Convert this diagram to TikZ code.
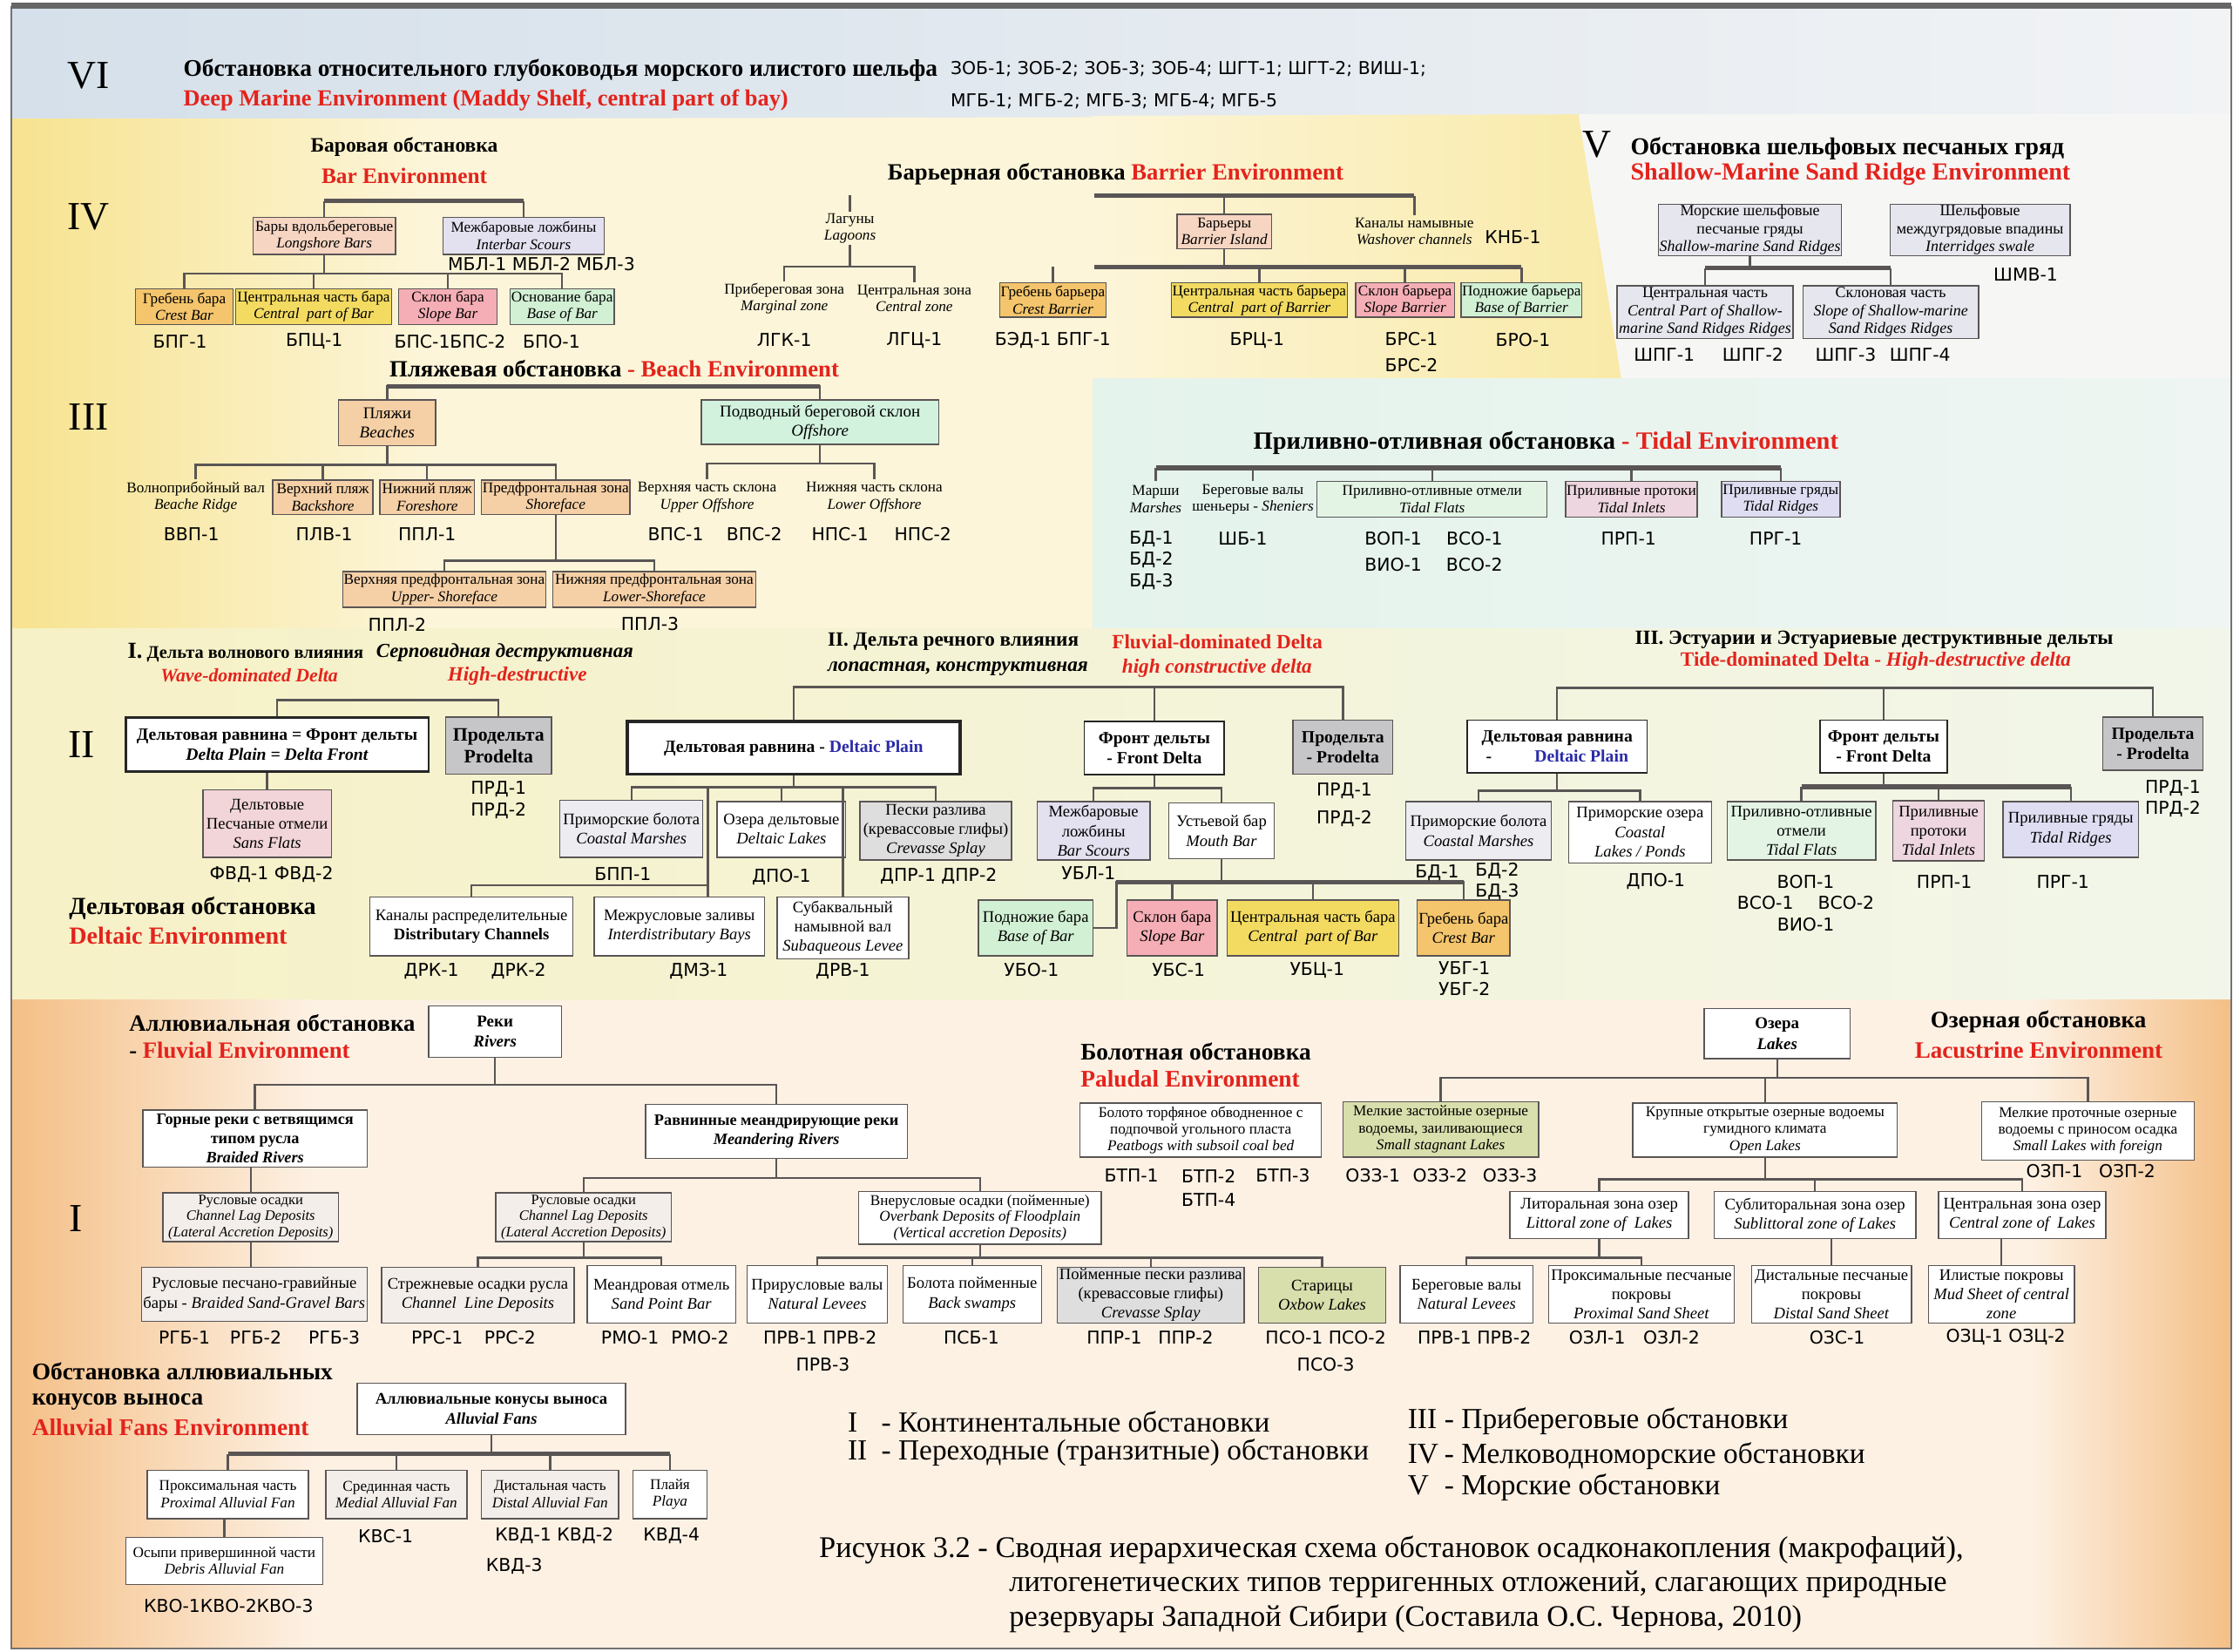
\documentclass[tikz,border=0pt]{standalone}
\usepackage{fontspec}
\setmainfont{Liberation Serif}
\newfontfamily\codefont{DejaVu Sans}
\usepackage{xcolor}
\usepackage{tikz}
\usetikzlibrary{positioning, calc}
\definecolor{envred}{HTML}{E3231C}
\definecolor{deltablue}{HTML}{2B2BA8}
\definecolor{linegray}{HTML}{5A5555}
\definecolor{nodepeach}{HTML}{F6D5C2}
\definecolor{nodetan}{HTML}{F5D0A6}
\definecolor{nodecrest}{HTML}{F4C56C}
\definecolor{nodecentral}{HTML}{F3DB62}
\definecolor{nodeslope}{HTML}{F5AEB5}
\definecolor{nodebase}{HTML}{D2F0D4}
\definecolor{nodelav}{HTML}{E3E0EF}
\definecolor{nodeshelf}{HTML}{E6E6EE}
\definecolor{nodeoff}{HTML}{D2F2DE}
\definecolor{nodeflat}{HTML}{E3F4E5}
\definecolor{nodeinlet}{HTML}{EDD6DF}
\definecolor{noderidge}{HTML}{DEDDF2}
\definecolor{nodegray}{HTML}{C6C6C8}
\definecolor{nodemarsh}{HTML}{ECECF1}
\definecolor{nodesplay}{HTML}{DEDEDE}
\definecolor{nodesand}{HTML}{F2D5D8}
\definecolor{nodeolive}{HTML}{D8DFAC}
\definecolor{nodewarm}{HTML}{F3EEEA}
\definecolor{bandsix}{HTML}{D5E0EA}
\definecolor{bandsixr}{HTML}{F1F3F5}
\definecolor{bandyel}{HTML}{F7E38F}
\definecolor{bandyelp}{HTML}{FCF5D9}
\definecolor{bandyels}{HTML}{F9EAA8}
\definecolor{bandv}{HTML}{F6F6F5}
\definecolor{bandtidl}{HTML}{E4F3EC}
\definecolor{bandtidr}{HTML}{EEF5F2}
\definecolor{bandtwol}{HTML}{F6F1C6}
\definecolor{bandtwor}{HTML}{F2F6EA}
\definecolor{bandone}{HTML}{FDF1E4}
\definecolor{bandonee}{HTML}{F4BF86}
\newcommand{\boxfont}{\fontsize{4.9}{5.5}\selectfont}
\newcommand{\headfont}[1]{\bfseries\fontsize{#1}{#1}\selectfont}

\begin{document}
\begin{tikzpicture}[x=0.164mm, y=-0.164mm,
    box/.style={draw=linegray, line width=0.4pt, fill=#1, align=center, inner sep=0.3pt, font=\boxfont},
    strong/.style={box=#1, draw=black!85, line width=0.8pt, font=\bfseries\fontsize{5.6}{6.6}\selectfont},
    bare/.style={align=center, inner sep=0.3pt, font=\boxfont},
    code/.style={font=\codefont\fontsize{5.8}{7}\selectfont, inner sep=0pt, align=center},
    ttl/.style={font={\headfont{#1}}, inner sep=0pt, anchor=west},
    envt/.style={ttl=#1, text=envred},
    numeral/.style={font=\fontsize{13}{13}\selectfont, inner sep=0pt},
    legtxt/.style={font=\fontsize{9.5}{10}\selectfont, inner sep=0pt, anchor=west},
    link/.style={draw=linegray, line width=0.7pt},
    bar/.style={draw=linegray, line width=1.6pt},
    elbow/.style={to path={-- ++(0,#1) -| (\tikztotarget)}},
    sz/.style 2 args={minimum width=#1*0.164mm, minimum height=#2*0.164mm},
]
    \useasboundingbox (0,0) rectangle (1568,1156);
    \fill[white] (0,0) rectangle (1568,1156);
    \shade[left color=bandsix, right color=bandsixr] (8,5) rectangle (1562,83);
    \shade[left color=bandyel, right color=bandyelp] (8,83) rectangle (300,440);
    \fill[bandyelp] (299,83) -- (766,82) -- (766,440) -- (299,440) -- cycle;
    \shade[left color=bandyelp, right color=bandyels] (765,81) -- (1105,80) -- (1135,265) -- (765,265) -- cycle;
    \fill[bandv] (1105,80) -- (1562,80) -- (1562,265) -- (1135,265) -- cycle;
    \shade[left color=bandtidl, right color=bandtidr] (765,265) rectangle (1562,440);
    \shade[left color=bandtwol, right color=bandtwor] (8,440) rectangle (1562,700);
    \fill[bandone] (8,700) rectangle (1562,1154);
    \shade[left color=bandonee, right color=bandone] (8,700) rectangle (220,1154);
    \shade[left color=bandone, right color=bandonee] (1420,700) rectangle (1562,1154);
    \draw[black!55, line width=0.6pt] (8,5) rectangle (1562,1154);
    \draw[black!60, line width=2pt] (8,4) -- (1562,4);

    \node[numeral] (numVI) at (62,53) {VI};
    \node[ttl=7.8] (titVI) at (128,49) {Обстановка относительного глубоководья морского илистого шельфа};
    \node[envt=7.5] (envVI) at (128,70) {Deep Marine Environment (Maddy Shelf, central part of bay)};
    \node[code, anchor=west] (kVIa) at (665,48) {ЗОБ-1; ЗОБ-2; ЗОБ-3; ЗОБ-4; ШГТ-1; ШГТ-2; ВИШ-1;};
    \node[code, anchor=west] (kVIb) at (665,71) {МГБ-1; МГБ-2; МГБ-3; МГБ-4; МГБ-5};

    \node[numeral] (numIV) at (62,152) {IV};
    \node[ttl=6.7, anchor=center] (titBar) at (283,103) {Баровая обстановка};
    \node[envt=7.2, anchor=center] (envBar) at (283,123) {Bar Environment};
    \node[box=nodepeach, sz={100}{26}] (longbar) at (227,165) {Бары вдольбереговые\\\textit{Longshore Bars}};
    \node[box=nodelav, sz={113}{26}] (interbar) at (366.5,165) {Межбаровые ложбины\\\textit{Interbar Scours}};
    \node[code] (kMBL) at (379,185) {МБЛ-1 МБЛ-2 МБЛ-3};
    \node[box=nodecrest, sz={68}{25}] (crestbar) at (129,214.5) {Гребень бара\\\textit{Crest Bar}};
    \node[box=nodecentral, sz={109}{25}] (centbar) at (219.5,214.5) {Центральная часть бара\\\textit{Central\ \ part of Bar}};
    \node[box=nodeslope, sz={69}{25}] (slopebar) at (313.5,214.5) {Склон бара\\\textit{Slope Bar}};
    \node[box=nodebase, sz={73}{25}] (basebar) at (393.5,214.5) {Основание бара\\\textit{Base of Bar}};
    \node[code] (kBPG) at (126,239) {БПГ-1};
    \node[code] (kBPC) at (220,239) {БПЦ-1};
    \node[code] (kBPS) at (315,239) {БПС-1БПС-2};
    \node[code] (kBPO) at (386,239) {БПО-1};
    \draw[link] (longbar.north) -- ++(0,-11);
    \draw[link] (interbar.north) -- ++(0,-11);
    \draw[bar] ($(longbar.north)+(0,-11)$) -- ($(interbar.north)+(0,-11)$);
    \draw[link] (longbar.south) to[elbow=13] (crestbar.north) (longbar.south) to[elbow=13] (centbar.north)
        (longbar.south) to[elbow=13] (slopebar.north) (longbar.south) to[elbow=13] (basebar.north);

    \node[ttl=7.6] (titBarrier) at (621,122) {Барьерная обстановка \textcolor{envred}{Barrier Environment}};
    \node[bare, sz={60}{22}] (lagoon) at (595,160) {Лагуны\\\textit{Lagoons}};
    \node[bare, sz={80}{22}] (marginal) at (549,209) {Прибереговая зона\\\textit{Marginal zone}};
    \node[bare, sz={80}{22}] (centzone) at (640,209) {Центральная зона\\\textit{Central zone}};
    \node[code] (kLGK) at (549,238) {ЛГК-1};
    \node[code] (kLGC) at (640,238) {ЛГЦ-1};
    \draw[link] (lagoon.north) -- ++(0,-12);
    \draw[link] (lagoon.south) to[elbow=15] (marginal.north) (lagoon.south) to[elbow=15] (centzone.north);
    \node[box=nodepeach, sz={66}{24}] (barisl) at (857,162) {Барьеры\\\textit{Barrier Island}};
    \node[bare, sz={90}{22}] (washover) at (990,162) {Каналы намывные\\\textit{Washover channels}};
    \node[code] (kKNB) at (1059,166) {КНБ-1};
    \node[box=nodecrest, sz={74}{24}] (crestbarr) at (737,210) {Гребень барьера\\\textit{Crest Barrier}};
    \node[box=nodecentral, sz={123}{24}] (centbarr) at (881.5,210) {Центральная часть барьера\\\textit{Central\ \ part of Barrier}};
    \node[box=nodeslope, sz={69}{24}] (slopebarr) at (983.5,210) {Склон барьера\\\textit{Slope Barrier}};
    \node[box=nodebase, sz={84}{24}] (basebarr) at (1065,210) {Подножие барьера\\\textit{Base of Barrier}};
    \node[code] (kBED) at (737,238) {БЭД-1 БПГ-1};
    \node[code] (kBRC) at (880,238) {БРЦ-1};
    \node[code] (kBRS) at (988,246.5) {БРС-1\\[1.5pt]БРС-2};
    \node[code] (kBRO) at (1066,238) {БРО-1};
    \coordinate (barrTop) at (766,137);
    \coordinate (barrMid) at (766,187);
    \draw[bar] (barrTop) -- (barrTop -| washover.north);
    \draw[link] (barisl.north) -- (barisl.north |- barrTop);
    \draw[link] (washover.north) -- (washover.north |- barrTop);
    \draw[link] (barisl.south) -- (barisl.south |- barrMid);
    \draw[bar] (barrMid) -- (barrMid -| basebarr.north);
    \draw[link] (centbarr.north) -- (centbarr.north |- barrMid);
    \draw[link] (slopebarr.north) -- (slopebarr.north |- barrMid);
    \draw[link] (basebarr.north) -- (basebarr.north |- barrMid);
    \draw[link] (crestbarr.north) -- ++(0,-11);

    \node[numeral] (numV) at (1118,101) {V};
    \node[ttl=7.9] (titV) at (1141,104) {Обстановка шельфовых песчаных гряд};
    \node[envt=8] (envV) at (1141,122) {Shallow-Marine Sand Ridge Environment};
    \node[box=nodeshelf, sz={124}{36}, font=\fontsize{5.1}{5.8}\selectfont] (shelfridge) at (1225,161) {Морские шельфовые\\песчаные гряды\\\textit{Shallow-marine Sand Ridges}};
    \node[box=nodeshelf, sz={126}{36}, font=\fontsize{5.1}{5.8}\selectfont] (interridge) at (1386,161) {Шельфовые\\междугрядовые впадины\\\textit{Interridges swale}};
    \node[code] (kSHMV) at (1418,192) {ШМВ-1};
    \node[box=nodeshelf, sz={123}{37}, font=\fontsize{5.1}{5.8}\selectfont] (centridge) at (1193.5,218.5) {Центральная часть\\\textit{Central Part of Shallow-}\\\textit{marine Sand Ridges Ridges}};
    \node[box=nodeshelf, sz={123}{37}, font=\fontsize{5.1}{5.8}\selectfont] (sloperidge) at (1323.5,218.5) {Склоновая часть\\\textit{Slope of Shallow-marine}\\\textit{Sand Ridges Ridges}};
    \node[code] (kSPGa) at (1165,248) {ШПГ-1};
    \node[code] (kSPGb) at (1227,248) {ШПГ-2};
    \node[code] (kSPGc) at (1292,248) {ШПГ-3};
    \node[code] (kSPGd) at (1344,248) {ШПГ-4};
    \draw[link] (shelfridge.south) to[elbow=9] (centridge.north) (shelfridge.south) to[elbow=9] (sloperidge.north);
    \draw[bar] ($(centridge.north)+(0,-12)$) -- ($(sloperidge.north)+(0,-12)$);

    \node[numeral] (numIII) at (62,292) {III};
    \node[ttl=7.6, anchor=center] (titBeach) at (430,258) {Пляжевая обстановка \textcolor{envred}{- Beach Environment}};
    \node[box=nodetan, sz={68}{32}, font=\fontsize{5.4}{6.4}\selectfont] (beaches) at (271,296) {Пляжи\\\textit{Beaches}};
    \node[box=nodeoff, sz={166}{31}, font=\fontsize{5.4}{6.4}\selectfont] (offshore) at (574,295.5) {Подводный береговой склон\\\textit{Offshore}};
    \node[bare, sz={90}{24}] (bridge) at (137,348) {Волноприбойный вал\\\textit{Beache Ridge}};
    \node[box=nodetan, sz={70}{24}] (backshore) at (226,348) {Верхний пляж\\\textit{Backshore}};
    \node[box=nodetan, sz={66}{24}] (foreshore) at (299,348) {Нижний пляж\\\textit{Foreshore}};
    \node[box=nodetan, sz={104}{24}] (shoreface) at (389,348) {Предфронтальная зона\\\textit{Shoreface}};
    \node[bare, sz={90}{24}] (upoff) at (495,348) {Верхняя часть склона\\\textit{Upper Offshore}};
    \node[bare, sz={90}{24}] (lowoff) at (612,348) {Нижняя часть склона\\\textit{Lower Offshore}};
    \node[box=nodetan, sz={142}{25}] (uppershore) at (311,412.5) {Верхняя предфронтальная зона\\\textit{Upper- Shoreface}};
    \node[box=nodetan, sz={142}{25}] (lowershore) at (458,412.5) {Нижняя предфронтальная зона\\\textit{Lower-Shoreface}};
    \node[code] (kVVP) at (134,374) {ВВП-1};
    \node[code] (kPLV) at (227,374) {ПЛВ-1};
    \node[code] (kPPLa) at (299,374) {ППЛ-1};
    \node[code] (kVPSa) at (473,374) {ВПС-1};
    \node[code] (kVPSb) at (528,374) {ВПС-2};
    \node[code] (kNPSa) at (588,374) {НПС-1};
    \node[code] (kNPSb) at (646,374) {НПС-2};
    \node[code] (kPPLb) at (278,437) {ППЛ-2};
    \node[code] (kPPLc) at (455,437) {ППЛ-3};
    \draw[link] (beaches.north) -- ++(0,-9) -| (offshore.north);
    \draw[bar] ($(beaches.north)+(0,-9)$) -- ($(offshore.north)+(0,-9)$);
    \draw[link] (beaches.south) to[elbow=13] (bridge.north) (beaches.south) to[elbow=13] (backshore.north)
        (beaches.south) to[elbow=13] (foreshore.north) (beaches.south) to[elbow=13] (shoreface.north);
    \draw[link] (offshore.south) to[elbow=13] (upoff.north) (offshore.south) to[elbow=13] (lowoff.north);
    \draw[link] (shoreface.south) to[elbow=32] (uppershore.north) (shoreface.south) to[elbow=32] (lowershore.north);

    \node[ttl=8.1] (titTidal) at (877,310) {Приливно-отливная обстановка \textcolor{envred}{- Tidal Environment}};
    \node[bare, sz={30}{25}] (marsh) at (809,349.5) {Марши\\\textit{Marshes}};
    \node[bare, sz={80}{25}] (chenier) at (877,349.5) {Береговые валы\\шеньеры - \textit{Sheniers}};
    \node[box=nodeflat, sz={161}{25}] (tflat) at (1002.5,349.5) {Приливно-отливные отмели\\\textit{Tidal Flats}};
    \node[box=nodeinlet, sz={92}{25}] (inlet) at (1142,349.5) {Приливные протоки\\\textit{Tidal Inlets}};
    \node[box=noderidge, sz={83}{25}] (tridge) at (1246.5,349.5) {Приливные гряды\\\textit{Tidal Ridges}};
    \node[code] (kBDt) at (806,392) {БД-1\\БД-2\\БД-3};
    \node[code] (kSHB) at (870,377) {ШБ-1};
    \node[code] (kVOP) at (1003.5,386) {ВОП-1\hspace{8pt}ВСО-1\\[1.5pt]ВИО-1\hspace{8pt}ВСО-2};
    \node[code] (kPRP) at (1140,377) {ПРП-1};
    \node[code] (kPRG) at (1243,377) {ПРГ-1};
    \draw[link] (marsh.north) -- ++(0,-9) (chenier.north) -- ++(0,-9) (tflat.north) -- ++(0,-9)
        (inlet.north) -- ++(0,-9) (tridge.north) -- ++(0,-9);
    \draw[bar] ($(marsh.north)+(0,-9)$) -- ($(tridge.north)+(0,-9)$);

    \node[numeral] (numII) at (57,521) {II};
    \node[ttl=5.8] (titWave) at (89,457) {{\fontsize{7.5}{7.5}\selectfont I.} Дельта волнового влияния};
    \node[ttl=6.5] (titWaveb) at (263,457) {\itshape Серповидная деструктивная};
    \node[envt=6.2] (envWave) at (112,473) {\itshape Wave-dominated Delta};
    \node[envt=6.6] (envWaveb) at (313,473) {\itshape High-destructive};
    \node[strong=white, sz={212}{38}] (dplainW) at (194,521) {Дельтовая равнина = Фронт дельты\\\textit{Delta Plain = Delta Front}};
    \node[strong=nodegray, sz={74}{40}, draw=linegray, line width=0.4pt, font=\bfseries\fontsize{6.2}{7.2}\selectfont] (prodW) at (349,522) {Продельта\\Prodelta};
    \node[code] (kPRDw) at (349,560) {ПРД-1\\ПРД-2};
    \node[box=nodesand, sz={90}{47}, font=\fontsize{5.3}{6.3}\selectfont] (sandflat) at (187,576.5) {Дельтовые\\Песчаные отмели\\\textit{Sans Flats}};
    \node[code] (kFVD) at (190,612) {ФВД-1 ФВД-2};
    \node[ttl=8] (titDeltaic) at (48,636) {Дельтовая обстановка};
    \node[envt=8] (envDeltaic) at (48,655) {Deltaic Environment};
    \draw[link] (dplainW.north) -- ++(0,-11) -| (prodW.north);
    \draw[link] (sandflat.north) -- (sandflat.north |- dplainW.south);

    \node[ttl=6.6] (titFluv) at (579,449) {II. Дельта речного влияния};
    \node[ttl=6.6] (titFluvb) at (579,468) {\itshape лопастная, конструктивная};
    \node[envt=6.6] (envFluv) at (778,449) {Fluvial-dominated Delta};
    \node[envt=6.6] (envFluvb) at (785,468) {\itshape high constructive delta};
    \node[strong=white, sz={233}{37}, line width=1pt] (dplainF) at (555.5,523.5) {Дельтовая равнина - \textcolor{deltablue}{Deltaic Plain}};
    \node[strong=white, sz={98}{37}, line width=0.5pt] (frontF) at (808,523.5) {Фронт дельты\\- Front Delta};
    \node[strong=nodegray, sz={70}{38}, draw=linegray, line width=0.4pt] (prodF) at (940,523) {Продельта\\- Prodelta};
    \node[code] (kPRDf) at (941,563.5) {ПРД-1\\[2pt]ПРД-2};
    \node[box=nodemarsh, sz={100}{40}, font=\fontsize{5.3}{6.3}\selectfont] (cmarshF) at (442,580) {Приморские болота\\\textit{Coastal Marshes}};
    \node[box=white, sz={90}{39}, font=\fontsize{5.3}{6.3}\selectfont] (dlakes) at (547,580.5) {Озера дельтовые\\\textit{Deltaic Lakes}};
    \node[box=nodesplay, sz={106}{41}, font=\fontsize{5.3}{6.3}\selectfont] (crevF) at (655,581.5) {Пески разлива\\(кревассовые глифы)\\\textit{Crevasse Splay}};
    \node[code] (kBPP) at (436,612) {БПП-1};
    \node[code] (kDPO) at (547,614) {ДПО-1};
    \node[code] (kDPR) at (657,613) {ДПР-1 ДПР-2};
    \node[box=white, sz={142}{41}, font=\fontsize{5.3}{6.3}\selectfont] (distch) at (330,648.5) {Каналы распределительные\\\textbf{Distributary Channels}};
    \node[box=white, sz={119}{41}, font=\fontsize{5.3}{6.3}\selectfont] (ibays) at (475.5,648.5) {Межрусловые заливы\\\textit{Interdistributary Bays}};
    \node[box=white, sz={92}{43}, font=\fontsize{5.3}{6.3}\selectfont] (subaq) at (590,649.5) {Субаквальный\\намывной вал\\\textit{Subaqueous Levee}};
    \node[code] (kDRKa) at (302,680) {ДРК-1};
    \node[code] (kDRKb) at (363,680) {ДРК-2};
    \node[code] (kDMZ) at (489,680) {ДМЗ-1};
    \node[code] (kDRV) at (590,680) {ДРВ-1};
    \draw[link] (dplainF.north) -- ++(0,-23) -| (prodF.north);
    \draw[link] (frontF.north) -- ++(0,-23);
    \draw[link] (dplainF.south) to[elbow=8] (cmarshF.north) (dplainF.south) to[elbow=8] (dlakes.north)
        (dplainF.south) to[elbow=8] (crevF.north) (dplainF.south) to[elbow=8] (subaq.north);
    \draw[link] (dplainF.south) -- ++(0,8) -| ($(ibays.north)+(20,0)$);
    \draw[link] ($(ibays.north)+(20,-8)$) -| (distch.north);
    \node[box=nodelav, sz={79}{41}, font=\fontsize{5.3}{6.3}\selectfont] (barscour) at (765.5,581.5) {Межбаровые\\ложбины\\\textit{Bar Scours}};
    \node[box=white, sz={74}{39}, font=\fontsize{5.3}{6.3}\selectfont] (mouthbar) at (855,581.5) {Устьевой бар\\\textit{Mouth Bar}};
    \node[code] (kUBL) at (762,611) {УБЛ-1};
    \node[box=nodebase, sz={80}{39}, font=\fontsize{5.3}{6.3}\selectfont] (basebarF) at (725,649.5) {Подножие бара\\\textit{Base of Bar}};
    \node[box=nodeslope, sz={63}{39}, font=\fontsize{5.3}{6.3}\selectfont] (slopebarF) at (820.5,649.5) {Склон бара\\\textit{Slope Bar}};
    \node[box=nodecentral, sz={120}{39}, font=\fontsize{5.3}{6.3}\selectfont] (centbarF) at (919,649.5) {Центральная часть бара\\\textit{Central\ \ part of Bar}};
    \node[box=nodecrest, sz={65}{39}, font=\fontsize{5.3}{6.3}\selectfont] (crestbarF) at (1024.5,649.5) {Гребень бара\\\textit{Crest Bar}};
    \node[code] (kUBO) at (722,679) {УБО-1};
    \node[code] (kUBS) at (825,679) {УБС-1};
    \node[code] (kUBC) at (922,679) {УБЦ-1};
    \node[code] (kUBG) at (1025,685) {УБГ-1\\УБГ-2};
    \draw[link] (frontF.south) to[elbow=9] (barscour.north) (frontF.south) to[elbow=9] (mouthbar.north);
    \draw[link] (mouthbar.south) to[elbow=16] (slopebarF.north) (mouthbar.south) to[elbow=16] (centbarF.north)
        (mouthbar.south) to[elbow=16] (crestbarF.north);
    \draw[link] (mouthbar.south) -- ++(0,16) -| ($(basebarF.east)+(16,0)$) -- (basebarF.east);
    \draw[bar] ($(basebarF.east |- mouthbar.south)+(16,16)$) -- ($(crestbarF.north |- mouthbar.south)+(0,16)$);

    \node[ttl=6.6] (titTide) at (1144,448) {III. Эстуарии и Эстуариевые деструктивные дельты};
    \node[envt=6.6] (envTide) at (1176,463) {Tide-dominated Delta - \textit{High-destructive delta}};
    \node[strong=white, sz={126}{37}, line width=0.5pt] (dplainT) at (1090,522.5) {Дельтовая равнина\\-\hspace{14pt}\textcolor{deltablue}{Deltaic Plain}};
    \node[strong=white, sz={89}{37}, line width=0.5pt] (frontT) at (1318.5,522.5) {Фронт дельты\\- Front Delta};
    \node[strong=nodegray, sz={70}{37}, draw=linegray, line width=0.4pt] (prodT) at (1507,520.5) {Продельта\\- Prodelta};
    \node[code] (kPRDt) at (1521,559) {ПРД-1\\ПРД-2};
    \node[box=nodemarsh, sz={102}{41}, font=\fontsize{5.3}{6.3}\selectfont] (cmarshT) at (1035,581.5) {Приморские болота\\\textit{Coastal Marshes}};
    \node[box=white, sz={100}{43}, font=\fontsize{5.3}{6.3}\selectfont] (clakesT) at (1148,582.5) {Приморские озера\\\textit{Coastal}\\\textit{Lakes / Ponds}};
    \node[box=nodeflat, sz={104}{41}, font=\fontsize{5.3}{6.3}\selectfont] (tflatT) at (1261,581.5) {Приливно-отливные\\отмели\\\textit{Tidal Flats}};
    \node[box=nodeinlet, sz={64}{42}, font=\fontsize{5.3}{6.3}\selectfont] (inletT) at (1357,581.5) {Приливные\\протоки\\\textit{Tidal Inlets}};
    \node[box=noderidge, sz={95}{39}, font=\fontsize{5.3}{6.3}\selectfont] (ridgeT) at (1449.5,580.5) {Приливные гряды\\\textit{Tidal Ridges}};
    \node[code] (kBDa) at (1006,611) {БД-1};
    \node[code] (kBDb) at (1048,617) {БД-2\\БД-3};
    \node[code] (kDPOt) at (1159,617) {ДПО-1};
    \node[code] (kVOPt) at (1264,632) {ВОП-1\\ВСО-1\hspace{8pt}ВСО-2\\ВИО-1};
    \node[code] (kPRPt) at (1361,617) {ПРП-1};
    \node[code] (kPRGt) at (1444,617) {ПРГ-1};
    \draw[link] (dplainT.north) -- ++(0,-22) -| (prodT.north);
    \draw[link] (frontT.north) -- ++(0,-22);
    \draw[link] (dplainT.south) to[elbow=12] (cmarshT.north) (dplainT.south) to[elbow=12] (clakesT.north);
    \draw[link] (frontT.south) to[elbow=10] (tflatT.north) (frontT.south) to[elbow=10] (inletT.north)
        (frontT.south) to[elbow=10] (ridgeT.north);
    \draw[bar] ($(tflatT.north)+(0,-10)$) -- ($(ridgeT.north)+(0,-10)$);

    \node[numeral] (numI) at (53,853) {I};
    \node[ttl=7.6] (titFluvial) at (90,716) {Аллювиальная обстановка};
    \node[ttl=7.6] (envFluvial) at (90,735) {- \textcolor{envred}{Fluvial Environment}};
    \node[box=white, sz={93}{36}, font=\bfseries\fontsize{5.4}{6.6}\selectfont] (rivers) at (346.5,722) {Реки\\\textit{Rivers}};
    \node[box=white, sz={157}{40}, font=\bfseries\fontsize{5.2}{6.2}\selectfont] (braided) at (178.5,797) {Горные реки с ветвящимся\\типом русла\\\textit{Braided Rivers}};
    \node[box=white, sz={183}{38}, font=\bfseries\fontsize{5.2}{6.2}\selectfont] (meander) at (543.5,792) {Равнинные меандрирующие реки\\\textit{Meandering Rivers}};
    \node[box=nodewarm, sz={123}{34}, font=\fontsize{4.7}{5.3}\selectfont] (chlag) at (175.5,852) {Русловые осадки\\\textit{Channel Lag Deposits}\\\textit{(Lateral Accretion Deposits)}};
    \node[box=nodewarm, sz={158}{38}, font=\fontsize{5.3}{6.3}\selectfont] (sgbars) at (178,906) {Русловые песчано-гравийные\\бары - \textit{Braided Sand-Gravel Bars}};
    \node[box=nodewarm, sz={123}{34}, font=\fontsize{4.7}{5.3}\selectfont] (chlagm) at (408.5,852) {Русловые осадки\\\textit{Channel Lag Deposits}\\\textit{(Lateral Accretion Deposits)}};
    \node[box=white, sz={170}{37}, font=\fontsize{4.9}{5.4}\selectfont] (overbank) at (686,852.5) {Внерусловые осадки (пойменные)\\\textit{Overbank Deposits of Floodplain}\\\textit{(Vertical accretion Deposits)}};
    \node[box=nodewarm, sz={135}{39}, font=\fontsize{5.3}{6.3}\selectfont] (chline) at (334.5,906.5) {Стрежневые осадки русла\\\textit{Channel\ \ Line Deposits}};
    \node[box=white, sz={104}{40}, font=\fontsize{5.3}{6.3}\selectfont] (pointbar) at (463,906) {Меандровая отмель\\\textit{Sand Point Bar}};
    \node[box=white, sz={98}{40}, font=\fontsize{5.3}{6.3}\selectfont] (levees) at (572,906) {Прирусловые валы\\\textit{Natural Levees}};
    \node[box=white, sz={97}{40}, font=\fontsize{5.3}{6.3}\selectfont] (bswamp) at (680.5,906) {Болота пойменные\\\textit{Back swamps}};
    \node[box=nodesplay, sz={131}{39}, font=\fontsize{5.3}{6.3}\selectfont] (crevI) at (805.5,906.5) {Пойменные пески разлива\\(кревассовые глифы)\\\textit{Crevasse Splay}};
    \node[box=nodeolive, sz={89}{39}, font=\fontsize{5.3}{6.3}\selectfont] (oxbow) at (925.5,906.5) {Старицы\\\textit{Oxbow Lakes}};
    \node[code] (kRGBa) at (129,936) {РГБ-1};
    \node[code] (kRGBb) at (179,936) {РГБ-2};
    \node[code] (kRGBc) at (234,936) {РГБ-3};
    \node[code] (kRRSa) at (306,936) {РРС-1};
    \node[code] (kRRSb) at (357,936) {РРС-2};
    \node[code] (kRMOa) at (441,936) {РМО-1};
    \node[code] (kRMOb) at (490,936) {РМО-2};
    \node[code] (kPRVa) at (574,936) {ПРВ-1 ПРВ-2};
    \node[code] (kPRVb) at (576,955) {ПРВ-3};
    \node[code] (kPSB) at (680,936) {ПСБ-1};
    \node[code] (kPPRa) at (780,936) {ППР-1};
    \node[code] (kPPRb) at (830,936) {ППР-2};
    \node[code] (kPSOa) at (928,936) {ПСО-1 ПСО-2};
    \node[code] (kPSOb) at (928,955) {ПСО-3};
    \draw[link] (rivers.south) to[elbow=19] (braided.north) (rivers.south) to[elbow=19] (meander.north);
    \draw[link] (chlag.north) -- (chlag.north |- braided.south);
    \draw[link] (chlag.south) -- (chlag.south |- sgbars.north);
    \draw[link] (meander.south) to[elbow=13] (chlagm.north) (meander.south) to[elbow=13] (overbank.north);
    \draw[link] (chlagm.south) to[elbow=11] (chline.north) (chlagm.south) to[elbow=11] (pointbar.north);
    \draw[link] (overbank.south) to[elbow=9] (levees.north) (overbank.south) to[elbow=9] (bswamp.north)
        (overbank.south) to[elbow=9] (crevI.north) (overbank.south) to[elbow=9] (oxbow.north);

    \node[ttl=7.8] (titPalud) at (756,736) {Болотная обстановка};
    \node[envt=7.8] (envPalud) at (756,755) {Paludal Environment};
    \node[box=white, sz={169}{38}] (peat) at (840.5,791) {Болото торфяное обводненное с\\подпочвой угольного пласта\\\textit{Peatbogs with subsoil coal bed}};
    \node[code] (kBTPa) at (792,823) {БТП-1};
    \node[code] (kBTPb) at (846,823) {БТП-2};
    \node[code] (kBTPc) at (898,823) {БТП-3};
    \node[code] (kBTPd) at (846,840) {БТП-4};

    \node[box=white, sz={102}{35}, font=\bfseries\fontsize{5.4}{6.6}\selectfont] (lakes) at (1244,723.5) {Озера\\\textit{Lakes}};
    \node[ttl=7.7] (titLac) at (1351,715) {Озерная обстановка};
    \node[envt=7.7] (envLac) at (1340,735) {Lacustrine Environment};
    \node[box=nodeolive, sz={137}{39}] (stagnant) at (1008.5,790.5) {Мелкие застойные озерные\\водоемы, заиливающиеся\\\textit{Small stagnant Lakes}};
    \node[box=white, sz={185}{38}] (openlakes) at (1235.5,791) {Крупные открытые озерные водоемы\\гумидного климата\\\textit{Open Lakes}};
    \node[box=white, sz={149}{41}] (flowlakes) at (1461.5,791.5) {Мелкие проточные озерные\\водоемы с приносом осадка\\\textit{Small Lakes with foreign}};
    \node[code] (kOZZa) at (961,823) {ОЗЗ-1};
    \node[code] (kOZZb) at (1008,823) {ОЗЗ-2};
    \node[code] (kOZZc) at (1057,823) {ОЗЗ-3};
    \node[code] (kOZPa) at (1438,820) {ОЗП-1};
    \node[code] (kOZPb) at (1489,820) {ОЗП-2};
    \node[box=white, sz={125}{33}, font=\fontsize{5.3}{6.3}\selectfont] (littoral) at (1119.5,850.5) {Литоральная зона озер\\\textit{Littoral zone of\ \ Lakes}};
    \node[box=white, sz={141}{33}, font=\fontsize{5.3}{6.3}\selectfont] (sublit) at (1270.5,850.5) {Сублиторальная зона озер\\\textit{Sublittoral zone of Lakes}};
    \node[box=white, sz={117}{33}, font=\fontsize{5.3}{6.3}\selectfont] (centlake) at (1415.5,850.5) {Центральная зона озер\\\textit{Central zone of\ \ Lakes}};
    \node[box=white, sz={93}{40}, font=\fontsize{5.3}{6.3}\selectfont] (natlev) at (1026.5,906) {Береговые валы\\\textit{Natural Levees}};
    \node[box=white, sz={130}{40}, font=\fontsize{5.3}{6.3}\selectfont] (proxsand) at (1149,906) {Проксимальные песчаные\\покровы\\\textit{Proximal Sand Sheet}};
    \node[box=white, sz={112}{40}, font=\fontsize{5.3}{6.3}\selectfont] (distsand) at (1282,906) {Дистальные песчаные\\покровы\\\textit{Distal Sand Sheet}};
    \node[box=white, sz={102}{40}, font=\fontsize{5.3}{6.3}\selectfont] (mudsheet) at (1401,906) {Илистые покровы\\\textit{Mud Sheet of central}\\\textit{zone}};
    \node[code] (kPRVl) at (1032,936) {ПРВ-1 ПРВ-2};
    \node[code] (kOZLa) at (1118,936) {ОЗЛ-1};
    \node[code] (kOZLb) at (1170,936) {ОЗЛ-2};
    \node[code] (kOZS) at (1286,936) {ОЗС-1};
    \node[code] (kOZC) at (1404,936) {ОЗЦ-1 ОЗЦ-2};
    \draw[link] (lakes.south) to[elbow=13] (stagnant.north) (lakes.south) to[elbow=13] (openlakes.north)
        (lakes.south) to[elbow=13] (flowlakes.north);
    \draw[link] (openlakes.south) to[elbow=15] (littoral.north) (openlakes.south) to[elbow=15] (sublit.north)
        (openlakes.south) to[elbow=15] (centlake.north);
    \draw[link] (littoral.south) to[elbow=13] (natlev.north) (littoral.south) to[elbow=13] (proxsand.north);
    \draw[link] (distsand.north) -- (distsand.north |- sublit.south);
    \draw[link] (mudsheet.north) -- (mudsheet.north |- centlake.south);

    \node[ttl=7.8] (titFans) at (22,960) {Обстановка аллювиальных};
    \node[ttl=7.8] (titFansb) at (22,981) {конусов выноса};
    \node[envt=7.8] (envFans) at (22,999) {Alluvial Fans Environment};
    \node[box=white, sz={188}{36}, font=\bfseries\fontsize{5.3}{6.6}\selectfont] (fans) at (344,986) {Аллювиальные конусы выноса\\\textit{Alluvial Fans}};
    \node[box=white, sz={113}{34}] (proxfan) at (159.5,1046) {Проксимальная часть\\\textit{Proximal Alluvial Fan}};
    \node[box=nodewarm, sz={99}{34}] (medfan) at (277.5,1046) {Срединная часть\\\textit{Medial Alluvial Fan}};
    \node[box=nodewarm, sz={96}{34}] (distfan) at (385,1046) {Дистальная часть\\\textit{Distal Alluvial Fan}};
    \node[box=white, sz={52}{34}] (playa) at (469,1046) {Плайя\\\textit{Playa}};
    \node[box=white, sz={138}{33}] (debris) at (157,1092.5) {Осыпи привершинной части\\\textit{Debris Alluvial Fan}};
    \node[code] (kKVS) at (270,1075) {КВС-1};
    \node[code] (kKVDa) at (388,1075) {КВД-1 КВД-2};
    \node[code] (kKVDb) at (360,1096) {КВД-3};
    \node[code] (kKVDc) at (470,1075) {КВД-4};
    \node[code] (kKVO) at (160,1124) {КВО-1КВО-2КВО-3};
    \draw[link] (fans.south) to[elbow=14] (proxfan.north) (fans.south) to[elbow=14] (medfan.north)
        (fans.south) to[elbow=14] (distfan.north) (fans.south) to[elbow=14] (playa.north);
    \draw[bar] ($(proxfan.north)+(0,-11)$) -- ($(playa.north)+(0,-11)$);
    \draw[link] (debris.north) -- (debris.north |- proxfan.south);

    \node[legtxt] (legI) at (593,995) {\makebox[11pt][l]{I}- Континентальные обстановки};
    \node[legtxt] (legII) at (593,1017) {\makebox[11pt][l]{II}- Переходные (транзитные) обстановки};
    \node[legtxt] (legIII) at (985,995) {\makebox[12pt][l]{III}- Прибереговые обстановки};
    \node[legtxt] (legIV) at (985,1019) {\makebox[12pt][l]{IV}- Мелководноморские обстановки};
    \node[legtxt] (legV) at (985,1041) {\makebox[12pt][l]{V}- Морские обстановки};
    \node[legtxt, font=\fontsize{9.8}{10}\selectfont] (capA) at (573,1085) {Рисунок 3.2 - Сводная иерархическая схема обстановок осадконакопления (макрофаций),};
    \node[legtxt, font=\fontsize{9.8}{10}\selectfont] (capB) at (706,1109) {литогенетических типов терригенных отложений, слагающих природные};
    \node[legtxt, font=\fontsize{9.8}{10}\selectfont] (capC) at (706,1133) {резервуары Западной Сибири (Составила О.С. Чернова, 2010)};
\end{tikzpicture}
\end{document}
